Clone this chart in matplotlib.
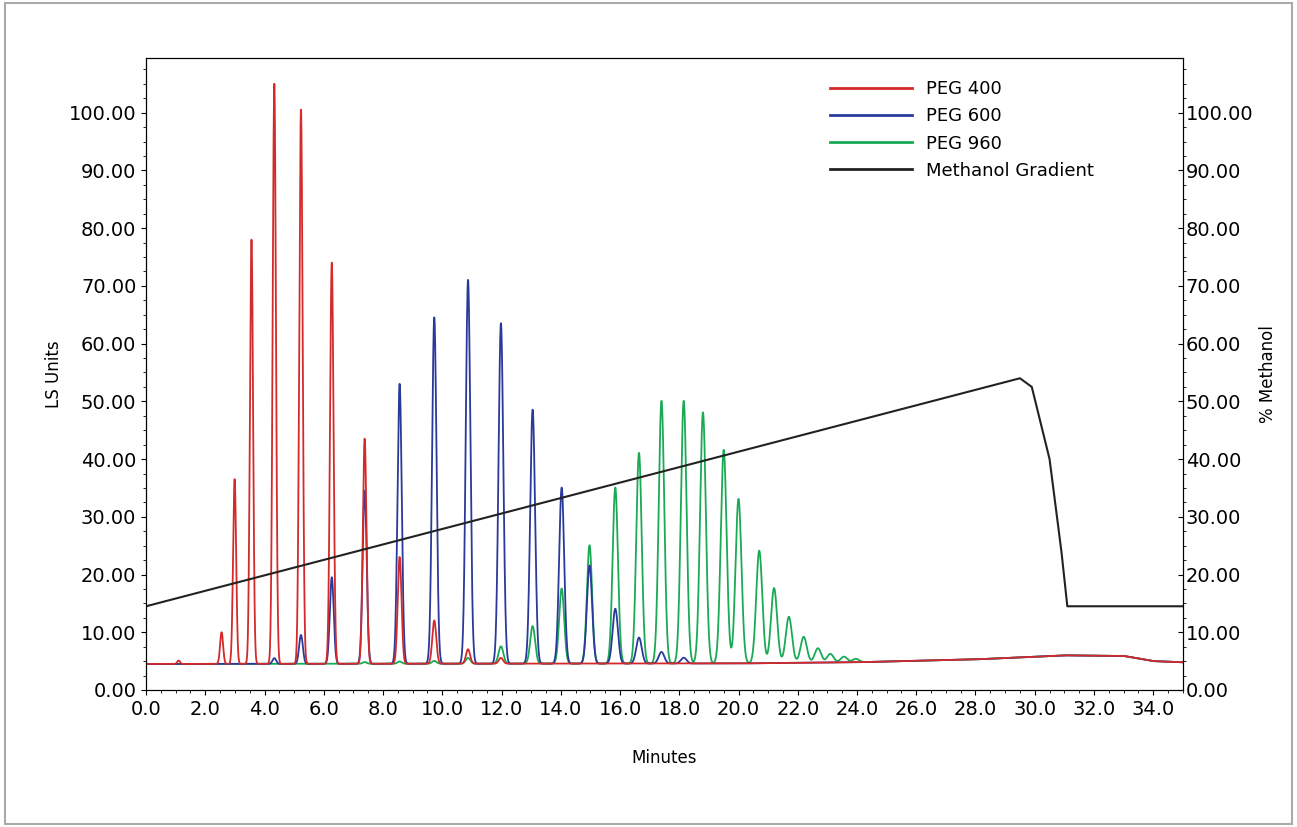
import numpy as np
import matplotlib.pyplot as plt
from matplotlib.patches import Rectangle

# peak positions (min) and heights (LS units)
peg400_x = [1.1, 2.55, 2.99, 3.56, 4.33, 5.23, 6.27, 7.38, 8.56, 9.73, 10.87, 11.98]
peg400_h = [0.6, 5.5, 32, 73.5, 100.5, 96, 69.5, 39, 18.5, 7.5, 2.5, 1.0]
peg600_x = [4.33, 5.23, 6.27, 7.38, 8.56, 9.73, 10.87, 11.98, 13.05, 14.03, 14.97, 15.84, 16.64, 17.4, 18.15]
peg600_h = [1.0, 5.0, 15.0, 30, 48.5, 60, 66.5, 59, 44, 30.5, 17, 9.5, 4.5, 2.0, 1.0]
peg960_x = [7.38, 8.56, 9.73, 10.87, 11.98, 13.05, 14.03, 14.97, 15.84, 16.64, 17.4, 18.15, 18.8, 19.5,
            20.0, 20.7, 21.2, 21.7, 22.2, 22.68, 23.1, 23.56, 23.96]
peg960_h = [0.3, 0.4, 0.5, 1.0, 3.0, 6.5, 13, 20.5, 30.5, 36.5, 45.5, 45.5, 43.5, 37, 28.5, 19.5, 13, 8,
            4.5, 2.5, 1.5, 1.0, 0.6]
base_t = [0, 20, 24, 28, 31, 33, 34, 35]
base_v = [4.5, 4.6, 4.8, 5.3, 6.0, 5.9, 5.0, 4.8]
meth_t = [0, 29.5, 29.9, 30.5, 30.9, 31.1, 35]
meth_v = [14.5, 54, 52.5, 40, 24, 14.5, 14.5]

t = np.linspace(0, 35, 7000)
base = np.interp(t, base_t, base_v)

def trace(xs, hs, w):
    y = base.copy()
    for x, h in zip(xs, hs):
        s = w * (1 + x / 20)
        y += h * np.exp(-0.5 * ((t - x) / s) ** 2)
    return y

fig = plt.figure(figsize=(12.97, 8.27), dpi=100)
fig.patches.append(Rectangle((0.004, 0.004), 0.992, 0.992, transform=fig.transFigure,
                             fill=False, ec='#aaaaaa', lw=1.5))
ax = fig.add_axes([0.1126, 0.1657, 0.7994, 0.7643])
ax.plot(t, trace(peg960_x, peg960_h, 0.05), color='#1aaa55', lw=1.3, label='PEG 960')
ax.plot(t, trace(peg600_x, peg600_h, 0.05), color='#2a3a9a', lw=1.3, label='PEG 600')
ax.plot(t, trace(peg400_x, peg400_h, 0.045), color='#d42a2a', lw=1.3, label='PEG 400')
ax.plot(meth_t, meth_v, color='#222222', lw=1.5, label='Methanol Gradient')

ax.set_xlim(0, 35)
ax.set_ylim(0, 109.5)
ax.set_xticks(np.arange(0, 35, 2))
ax.set_xticklabels([f'{v:.1f}' for v in np.arange(0, 35, 2)])
ax.set_xticks(np.arange(0, 35.01, 0.5), minor=True)
ax.set_yticks(np.arange(0, 101, 10))
ax.set_yticklabels([f'{v:.2f}' for v in np.arange(0, 101, 10)])
ax.set_yticks(np.arange(0, 109, 2.5), minor=True)
ax.tick_params(labelsize=14, direction='out')
ax.set_xlabel('Minutes', fontsize=12, labelpad=22)
ax.set_ylabel('LS Units', fontsize=12)

ax2 = ax.twinx()
ax2.set_ylim(0, 109.5)
ax2.set_yticks(np.arange(0, 101, 10))
ax2.set_yticklabels([f'{v:.2f}' for v in np.arange(0, 101, 10)])
ax2.set_yticks(np.arange(0, 109, 2.5), minor=True)
ax2.tick_params(labelsize=14, direction='in', pad=2)
ax2.set_ylabel('% Methanol', fontsize=12)

h, l = ax.get_legend_handles_labels()
order = [2, 1, 0, 3]
leg = ax.legend([h[i] for i in order], [l[i] for i in order], loc='upper right',
                bbox_to_anchor=(0.93, 0.99), frameon=False, fontsize=13, handlelength=4.5)
for line in leg.get_lines():
    line.set_linewidth(2)

fig.savefig('out.png', dpi=100)
